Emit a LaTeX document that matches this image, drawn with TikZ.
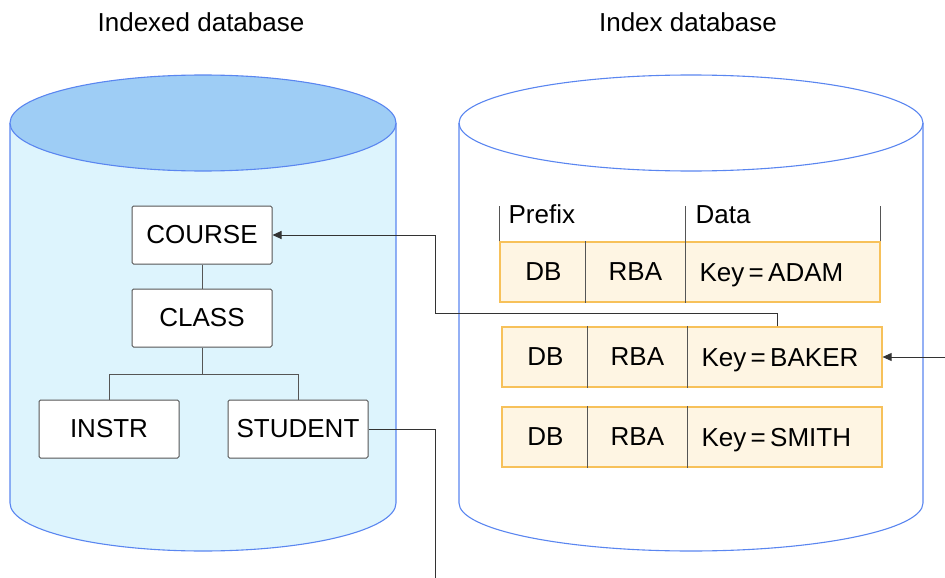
\documentclass[tikz,border=0pt]{standalone}
\usepackage{fontspec}
\setmainfont{Liberation Sans}
\usetikzlibrary{arrows.meta,positioning,calc}

\definecolor{dbblue}{HTML}{5A86F0}
\definecolor{dbtop}{HTML}{9ECDF5}
\definecolor{dbbody}{HTML}{DDF4FD}
\definecolor{rowfill}{HTML}{FEF5E3}
\definecolor{rowline}{HTML}{F7C15A}
\definecolor{boxgray}{HTML}{555555}

\tikzset{
    segbox/.style={draw=boxgray, line width=1pt, fill=white, rounded corners=1.5pt,
        minimum width=140pt, minimum height=58pt, inner sep=0pt,
        font=\fontsize{26}{30}\selectfont},
    keyrow/.style={draw=rowline, line width=1.2pt, fill=rowfill,
        minimum width=380pt, minimum height=60pt, inner sep=0pt},
    celltext/.style={inner sep=0pt, font=\fontsize{26}{30}\selectfont},
    cellline/.style={boxgray, line width=1pt},
    link/.style={line width=0.9pt, black!80},
    linkarrow/.style={link, -{Triangle[length=9pt,width=8pt]}},
    dbline/.style={dbblue, line width=1.1pt}
}

\begin{document}
\begin{tikzpicture}[x=1pt,y=-1pt]

    \useasboundingbox (0,0) rectangle (945,578);

    % Titles
    \node[celltext] (ttlindexed) at (201,22) {Indexed database};
    \node[celltext] (ttlindex) at (688,22) {Index database};

    % Indexed database cylinder
    \fill[dbbody] (10,123) -- (10,503) arc[start angle=180, end angle=360, x radius=193pt, y radius=48pt] -- (396,123) -- cycle;
    \draw[dbline] (10,123) -- (10,503) arc[start angle=180, end angle=360, x radius=193pt, y radius=48pt] -- (396,123);
    \filldraw[dbline, fill=dbtop] (203,123) ellipse[x radius=193pt, y radius=48pt];

    % Index database cylinder
    \draw[dbline] (459,123) -- (459,503) arc[start angle=180, end angle=360, x radius=232pt, y radius=48pt] -- (923,123);
    \draw[dbline] (691,123) ellipse[x radius=232pt, y radius=48pt];

    % Segments
    \node[segbox] (course) at (202,235) {COURSE};
    \node[segbox] (class) at (202,318) {CLASS};
    \node[segbox] (instr) at (109,429) {INSTR};
    \node[segbox] (student) at (298,429) {STUDENT};

    \draw[cellline] (course) -- (class);
    \draw[cellline] (class.south) -- ++(0,27) -| (instr.north);
    \draw[cellline] (class.south) -- ++(0,27) -| (student.north);

    % Index records
    \foreach \nm/\x/\y/\key in {adam/690/272/ADAM, baker/692/357/BAKER, smith/692/437/SMITH} {
        \node[keyrow] (\nm) at (\x,\y) {};
        \draw[cellline] ($(\nm.north west)+(86,0)$) -- ($(\nm.south west)+(86,0)$);
        \draw[cellline] ($(\nm.north west)+(186,0)$) -- ($(\nm.south west)+(186,0)$);
        \node[celltext] (\nm db) at ($(\nm.west)+(44,0)$) {DB};
        \node[celltext] (\nm rba) at ($(\nm.west)+(136,0)$) {RBA};
        \node[celltext, anchor=base west] (\nm key) at ($(\nm.west)+(200,9)$) {Key\,=\,\key};
    }

    % Prefix / Data header
    \draw[cellline] (adam.north west) -- ++(0,-35);
    \draw[cellline] ($(adam.north west)+(186,0)$) -- ++(0,-35);
    \draw[cellline] (adam.north east) -- ++(0,-35);
    \node[celltext, anchor=base west] (prefix) at ($(adam.north west)+(9,-18)$) {Prefix};
    \node[celltext, anchor=base west] (data) at ($(adam.north west)+(196,-18)$) {Data};

    % Pointers
    \coordinate (tap) at (777,313);
    \coordinate (inkey) at (945,357);
    \coordinate (outdep) at (435,578);
    \draw[linkarrow] (tap |- baker.north) -- (tap) -- (435,313) |- (course.east);
    \draw[linkarrow] (inkey) -- (baker.east);
    \draw[link] (student.east) -| (outdep);

\end{tikzpicture}
\end{document}
